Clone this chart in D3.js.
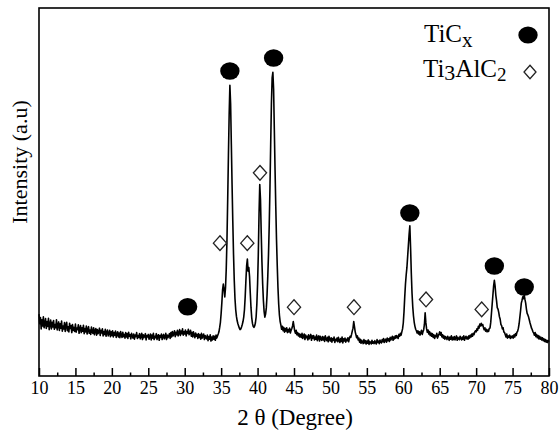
<!DOCTYPE html>
<html><head><meta charset="utf-8">
<script src="https://cdn.jsdelivr.net/npm/d3@7"></script>
<style>body{margin:0;background:#fff} svg{display:block;font-family:"Liberation Serif","Times New Roman",Times,serif}</style>
</head><body><svg id="c" width="560" height="436"></svg>
<script>
// XRD pattern: 2θ from 10° to 80°, scan step 0.1° (one row = one degree)
const angleStart = 10, angleStep = 0.1;
const intensity = [
16.8,14.2,15.9,12.8,15.3,13.6,16.1,13.1,14.4,15.6,
12.9,14.8,13.5,15.7,12.6,14.1,15.2,12.8,14.6,13.3,
15.1,12.7,14.0,13.1,15.3,12.5,13.9,14.7,12.4,14.2,
13.0,14.9,12.2,13.6,12.8,14.5,12.1,13.8,14.6,12.3,
13.4,12.0,14.3,12.9,13.7,11.8,14.0,12.4,13.2,12.1,
14.1,11.9,13.0,12.6,13.9,11.6,12.8,13.7,11.8,13.1,
12.2,13.8,11.5,12.9,12.0,13.6,11.4,12.7,13.4,11.6,
12.5,11.3,13.3,12.0,11.6,13.1,11.2,12.3,12.9,11.1,
12.6,11.5,12.0,13.0,11.0,12.4,11.7,12.8,10.9,12.1,
11.3,12.7,10.8,11.9,12.5,10.9,11.6,12.4,10.7,12.0,
11.0,12.3,10.6,11.8,11.1,12.2,10.5,11.4,12.0,10.6,
11.7,10.4,12.1,11.0,10.5,11.9,10.7,11.3,10.3,11.8,
10.6,11.5,10.2,11.9,10.8,11.2,10.1,11.6,10.9,10.3,
11.4,10.0,11.1,10.7,11.8,10.2,11.0,10.5,11.5,10.1,
10.9,11.6,9.9,11.2,10.4,10.8,11.5,9.8,11.0,10.6,
11.3,10.0,10.7,11.4,9.8,11.1,10.3,11.6,9.9,10.8,
10.4,11.5,9.9,10.9,11.2,9.7,11.0,10.5,11.4,9.9,
10.8,11.3,10.1,10.6,11.6,9.9,11.1,10.4,10.9,11.5,
10.2,11.8,10.6,12.1,10.9,11.4,12.3,10.7,11.9,11.2,
12.4,10.9,11.7,12.6,11.0,12.2,11.5,12.8,11.1,12.0,
11.4,12.5,10.9,12.1,11.6,12.7,11.2,11.8,12.4,10.8,
11.9,10.6,12.0,11.1,10.4,11.7,10.8,11.3,10.2,11.5,
10.5,11.2,10.0,11.6,10.3,10.9,11.4,9.9,11.0,10.4,
10.1,11.1,9.6,10.7,10.0,11.2,9.5,10.6,9.8,10.9,
10.0,10.8,9.7,11.1,10.3,10.9,11.4,12.0,13.2,14.6,
17.0,20.0,23.5,25.0,23.5,21.5,24.0,29.0,37.0,48.0,
60.0,71.0,79.0,74.0,63.0,52.0,42.0,33.0,26.0,21.0,
18.0,16.2,15.0,14.2,13.6,13.0,12.6,12.8,13.3,14.0,
14.8,16.0,18.0,21.5,26.0,30.0,31.8,28.5,29.5,27.0,
22.5,18.5,15.8,14.3,13.5,13.2,13.6,14.4,16.0,19.5,
25.0,33.0,44.0,52.0,48.0,39.0,31.0,25.0,20.5,17.5,
16.0,16.8,18.5,22.0,27.0,33.0,41.0,51.0,63.0,74.0,
81.0,82.5,78.0,67.0,56.0,46.0,37.0,30.0,24.0,19.5,
16.5,14.8,13.8,12.7,13.5,12.3,13.2,11.9,12.9,12.2,
13.1,11.8,12.6,12.0,13.0,11.7,12.4,12.9,13.6,14.8,
13.5,12.2,11.6,12.4,11.2,11.8,10.9,11.5,10.6,11.3,
10.5,11.6,10.2,10.9,11.4,9.9,11.1,10.4,10.8,9.8,
11.2,10.1,10.7,11.3,9.7,10.9,10.3,11.0,9.8,10.6,
10.0,11.1,9.6,10.5,10.9,9.5,10.8,10.1,9.7,10.7,
9.8,10.6,9.4,10.9,10.0,9.6,10.5,9.3,10.8,9.9,
9.5,10.4,9.2,10.2,9.7,10.6,9.1,10.0,9.6,10.3,
9.3,10.5,9.6,9.1,10.2,9.4,10.6,9.0,10.1,9.5,
10.3,9.2,10.0,9.6,10.4,9.3,10.2,10.8,10.5,11.3,
12.2,13.0,14.8,13.4,12.0,11.2,10.4,10.9,9.8,10.3,
9.2,10.0,8.9,9.7,9.3,8.8,9.9,9.0,9.6,8.7,
9.5,8.9,9.8,8.6,9.4,9.1,8.7,9.7,8.9,9.3,
8.8,9.6,9.0,8.7,9.9,9.1,9.5,8.8,9.8,9.2,
9.0,9.9,9.3,10.2,9.1,9.7,10.0,9.2,10.3,9.6,
10.1,9.4,10.5,9.8,10.3,10.8,9.7,10.6,10.1,10.9,
10.3,11.0,10.5,10.2,11.3,10.8,11.6,11.1,12.0,12.8,
14.4,17.5,21.5,25.0,27.5,29.5,32.5,35.5,38.5,40.8,
35.0,28.0,22.5,18.8,16.3,14.6,13.5,12.7,12.3,11.7,
12.3,11.4,12.0,11.1,11.8,12.4,11.3,12.0,12.6,14.0,
17.2,14.5,12.8,11.9,12.5,11.4,12.1,11.0,11.7,10.8,
11.5,10.5,11.2,10.2,11.0,10.7,11.6,10.3,10.9,11.4,
12.0,11.1,11.8,10.6,11.2,10.3,10.9,10.0,10.7,10.4,
9.9,10.8,10.2,9.7,10.6,10.0,10.9,9.8,10.5,9.9,
10.7,9.8,10.4,10.9,9.7,10.5,10.1,9.9,10.8,10.2,
9.8,10.6,10.0,10.9,9.7,10.4,10.8,10.1,10.6,10.0,
10.9,10.3,11.1,10.6,11.4,10.8,11.6,11.2,11.9,12.3,
12.0,12.8,12.4,13.5,13.0,14.1,13.6,14.3,13.7,14.0,
13.2,12.6,13.1,12.2,12.7,12.0,12.5,12.1,12.9,13.0,
14.5,17.0,19.5,22.0,24.5,26.0,24.5,22.0,20.5,18.6,
18.2,17.3,16.1,15.4,14.0,13.7,12.8,13.1,12.0,11.8,
11.2,10.6,11.4,10.3,10.9,10.5,11.1,10.2,10.8,10.4,
10.9,10.3,11.2,10.6,11.5,11.0,11.9,12.2,13.0,14.2,
16.0,17.8,19.8,20.6,21.5,21.0,22.0,20.8,19.8,18.2,
17.0,16.6,16.0,15.2,14.4,13.7,13.0,12.6,12.0,11.7,
11.1,11.8,10.7,11.3,10.4,11.0,10.1,10.8,10.0,10.5,
9.8,10.4,9.6,10.1,9.4,9.9,9.2,9.7,9.1,9.6,
9.3
];

// Phase markers (2θ position, marker height in intensity units)
const ticxAngles  = [30.4, 36.2, 42.2, 60.9, 72.5, 76.6];
const ticxHeights = [18.8, 82.9, 86.4, 44.3, 29.9, 24.2];
const ti3alc2Angles  = [34.84, 38.59, 40.33, 45.0, 53.23, 63.12, 70.76];
const ti3alc2Heights = [36.1, 36.1, 55.2, 18.7, 18.7, 20.8, 18.1];

const xMajorTicks = [10,15,20,25,30,35,40,45,50,55,60,65,70,75,80];
const xMinorTicks = [12.5,17.5,22.5,27.5,32.5,37.5,42.5,47.5,52.5,57.5,62.5,67.5,72.5,77.5];
const xTitle = "2 θ (Degree)";
const yTitle = "Intensity (a.u)";

const FONT = '"Liberation Serif","Times New Roman",Times,serif';
const svg = d3.select("#c");
const L = 39, R = 549, T = 8, B = 376;
const x = d3.scaleLinear().domain([10, 80]).range([L, R]);
const y = d3.scaleLinear().domain([0, 100]).range([B, T]);

const pts = intensity.map((v, i) => [angleStart + i * angleStep, v]);

// curve
svg.append("path")
  .datum(pts)
  .attr("fill", "none")
  .attr("stroke", "#000")
  .attr("stroke-width", 1.6)
  .attr("stroke-linejoin", "round")
  .attr("d", d3.line().x(d => x(d[0])).y(d => y(d[1])));

// minor ticks
const minorAxis = d3.axisBottom(x).tickValues(xMinorTicks).tickSize(-3.5).tickFormat("");
svg.append("g").attr("transform", `translate(0,${B})`).call(minorAxis)
  .call(g => g.select(".domain").remove())
  .call(g => g.selectAll("line").attr("stroke", "#000").attr("stroke-width", 1.5));

// major ticks
const majorAxis = d3.axisBottom(x).tickValues(xMajorTicks).tickSize(-8).tickPadding(5).tickFormat(d3.format("d"));
svg.append("g").attr("transform", `translate(0,${B})`).call(majorAxis)
  .attr("font-family", FONT).attr("font-size", 18)
  .call(g => g.select(".domain").remove())
  .call(g => g.selectAll("line").attr("stroke", "#000").attr("stroke-width", 1.5))
  .call(g => g.selectAll("text").attr("fill", "#000").attr("dy", null).attr("y", 18));

// frame
svg.append("rect")
  .attr("x", L).attr("y", T).attr("width", R - L).attr("height", B - T)
  .attr("fill", "none").attr("stroke", "#000").attr("stroke-width", 1.6);

// TiCx markers
svg.append("g").selectAll("ellipse")
  .data(ticxAngles.map((a, i) => [a, ticxHeights[i]]))
  .join("ellipse")
  .attr("cx", d => x(d[0])).attr("cy", d => y(d[1]))
  .attr("rx", 9.7).attr("ry", 8.8).attr("fill", "#000");

// Ti3AlC2 markers
const diamond = (cx, cy, w, h) => `M${cx},${cy - h}L${cx + w},${cy}L${cx},${cy + h}L${cx - w},${cy}Z`;
svg.append("g").selectAll("path")
  .data(ti3alc2Angles.map((a, i) => [a, ti3alc2Heights[i]]))
  .join("path")
  .attr("d", d => diamond(x(d[0]), y(d[1]), 6.6, 7.4))
  .attr("fill", "#fff").attr("stroke", "#222").attr("stroke-width", 1.3);

// legend
const lg = svg.append("g").attr("font-family", FONT).attr("fill", "#000");
const t1 = lg.append("text").attr("x", 424).attr("y", 42).attr("font-size", 25);
t1.append("tspan").text("TiC");
t1.append("tspan").attr("dy", 5).attr("font-size", 21).text("x");
lg.append("ellipse").attr("cx", 528).attr("cy", 35).attr("rx", 9.7).attr("ry", 8.6).attr("fill", "#000");
const t2 = lg.append("text").attr("x", 423).attr("y", 77).attr("font-size", 25);
t2.append("tspan").text("Ti");
t2.append("tspan").attr("dy", 3).attr("font-size", 22).text("3");
t2.append("tspan").attr("dy", -3).text("AlC");
t2.append("tspan").attr("dy", 4).attr("font-size", 19).text("2");
lg.append("path").attr("d", diamond(530, 72, 6, 6.8)).attr("fill", "#fff").attr("stroke", "#222").attr("stroke-width", 1.3);

// axis titles
svg.append("text").attr("x", (L + R) / 2 + 1).attr("y", 425).attr("text-anchor", "middle")
  .attr("font-family", FONT).attr("font-size", 23).text(xTitle);
svg.append("text").attr("transform", `translate(27,${(T + B) / 2 - 30}) rotate(-90)`).attr("text-anchor", "middle")
  .attr("font-family", FONT).attr("font-size", 22).text(yTitle);
</script></body></html>
